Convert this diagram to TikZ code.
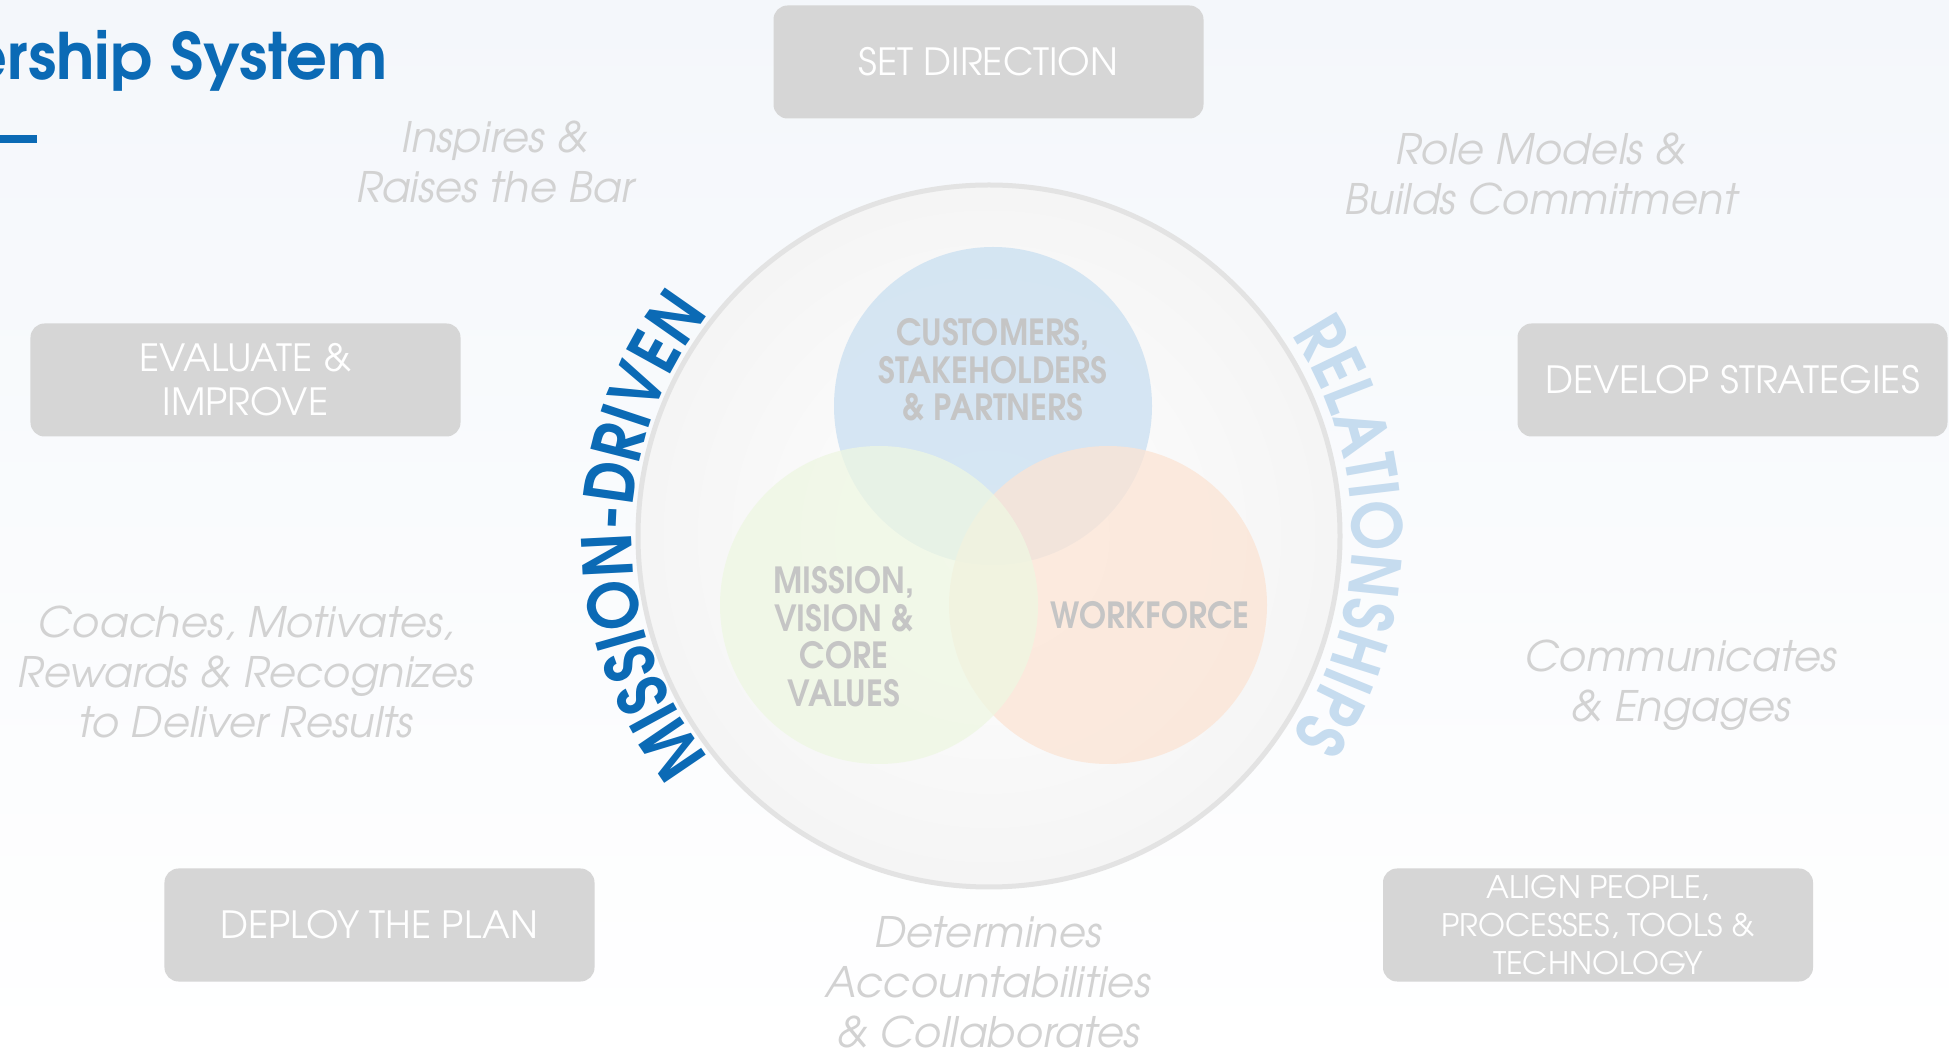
\documentclass[tikz,border=0pt]{standalone}
\usepackage{fontspec}
\usetikzlibrary{decorations.text}
\newfontfamily\advfont{texgyreadventor}[Extension=.otf, UprightFont=*-regular, BoldFont=*-bold, ItalicFont=*-italic, BoldItalicFont=*-bolditalic]
\newfontfamily\vennfont{texgyreadventor}[Extension=.otf, UprightFont=*-bold, FakeStretch=0.9]
\newfontfamily\ringfont{texgyreadventor}[Extension=.otf, UprightFont=*-bold, FakeStretch=0.88]
\definecolor{lsblue}{HTML}{0B6AB5}
\definecolor{relblue}{HTML}{C6DCEF}
\definecolor{boxgray}{HTML}{D6D6D6}
\definecolor{mottogray}{HTML}{D2D2D2}
\definecolor{venngray}{HTML}{C5C5C5}
\definecolor{ringgray}{HTML}{E3E3E3}
\definecolor{custblue}{HTML}{CFE2F2}
\definecolor{missgreen}{HTML}{EEF7E2}
\definecolor{workorange}{HTML}{FCE4D4}

\begin{document}
\begin{tikzpicture}[x=1bp, y=1bp,
  task/.style={fill=boxgray, rounded corners=14bp, minimum width=430bp,
    minimum height=113bp, align=center, text=white, inner sep=0pt,
    font=\advfont\fontsize{37.5bp}{44bp}\selectfont},
  motto/.style={align=center, text=mottogray,
    font=\advfont\itshape\fontsize{42bp}{50bp}\selectfont},
  venn/.style={align=center, text=venngray,
    font=\vennfont\fontsize{36bp}{37.5bp}\selectfont}]
  \useasboundingbox (0,0) rectangle (1949,1053);
  \clip (0,0) rectangle (1949,1053);
  \fill[top color={rgb,255:red,244;green,247;blue,251}, bottom color=white]
    (0,0) rectangle (1949,1053);

  % title
  \node[anchor=base east, inner sep=0pt, text=lsblue,
    font=\advfont\bfseries\fontsize{64bp}{70bp}\selectfont] (title) at (388,973)
    {Leadership System};
  \fill[lsblue] (0,910) rectangle (37,918);

  % ring
  \coordinate (c) at (989,517);
  \fill[inner color=white, outer color=black!4] (c) circle [radius=350];
  \draw[ringgray, line width=5bp] (c) circle [radius=351];

  % venn
  \coordinate (cb) at (993,647);
  \coordinate (cg) at (879,448);
  \coordinate (co) at (1108,448);
  \fill[custblue, opacity=0.85] (cb) circle [radius=159];
  \fill[workorange, opacity=0.75] (co) circle [radius=159];
  \fill[missgreen, opacity=0.75] (cg) circle [radius=159];
  \node[venn] (cust) at (993,683) {CUSTOMERS,\\STAKEHOLDERS\\\& PARTNERS};
  \node[venn] (miss) at (844,416.5) {MISSION,\\VISION \&\\CORE\\VALUES};
  \node[venn] (work) at (1150,438) {WORKFORCE};

  % words round the ring
  \path[decorate, decoration={text along path, text align=center,
    text color=lsblue,
    text={|\ringfont\fontsize{68bp}{70bp}\selectfont|MISSION-DRIVEN}}]
    ([shift={(230:357)}]c) arc [start angle=230, end angle=130, radius=357];
  \path[decorate, decoration={text along path, text align=center,
    text color=relblue,
    text={|\ringfont\fontsize{68bp}{70bp}\selectfont|RELATIONSHIPS}}]
    ([shift={(50:363)}]c) arc [start angle=50, end angle=-50, radius=363];

  % steps
  \node[task] (direction) at (988.5,991) {SET DIRECTION};
  \node[task] (evaluate) at (245.5,673) {EVALUATE \&\\IMPROVE};
  \node[task] (develop) at (1732.5,673) {DEVELOP STRATEGIES};
  \node[task] (deploy) at (379.5,128) {DEPLOY THE PLAN};
  \node[task, font=\advfont\fontsize{31bp}{38bp}\selectfont] (align) at (1598,128)
    {ALIGN PEOPLE,\\PROCESSES, TOOLS \&\\TECHNOLOGY};

  % behaviours
  \node[motto] (inspires) at (495,891) {Inspires \&\\Raises the Bar};
  \node[motto] (rolemodels) at (1541,879.5) {Role Models \&\\Builds Commitment};
  \node[motto] (coaches) at (246,381) {Coaches, Motivates,\\Rewards \& Recognizes\\to Deliver Results};
  \node[motto] (communicates) at (1681,368) {Communicates\\\& Engages};
  \node[motto] (determines) at (988,71) {Determines\\Accountabilities\\\& Collaborates};
\end{tikzpicture}
\end{document}
